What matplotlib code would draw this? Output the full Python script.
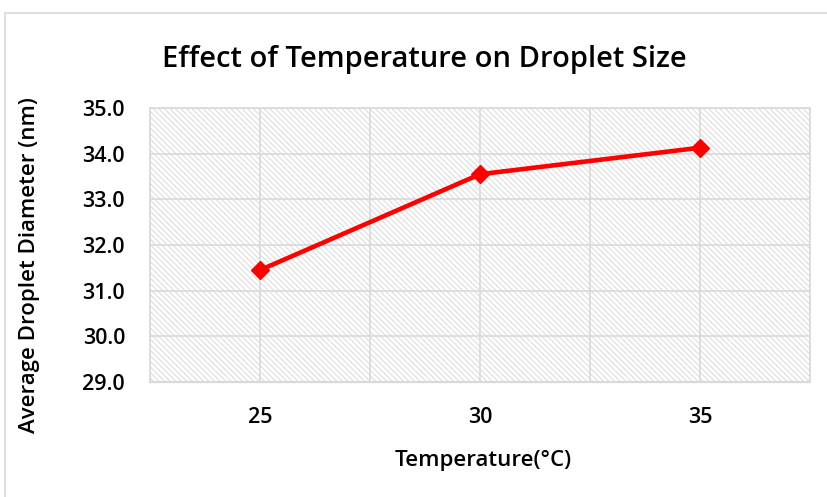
import numpy as np
import matplotlib.pyplot as plt
from matplotlib.patches import Rectangle

# DATA
temperature = [25, 30, 35]
diameter = [31.45, 33.55, 34.13]
x_ticks = [25, 30, 35]
y_ticks = [29.0, 30.0, 31.0, 32.0, 33.0, 34.0, 35.0]

plt.rcParams['font.family'] = ['Open Sans', 'DejaVu Sans']
plt.rcParams['font.weight'] = 'semibold'
plt.rcParams['hatch.linewidth'] = 0.8

W, H = 827, 497
fig = plt.figure(figsize=(W / 100, H / 100), dpi=100)

# light frame around the chart
fig.patches.append(Rectangle((5 / W, -0.1), 1.0, 1.1 - 13 / H, transform=fig.transFigure,
                             fill=False, edgecolor='#d9d9d9', lw=1.2))

ax = fig.add_axes([150 / W, 1 - 382 / H, 660 / W, 274 / H])

# hatched plot area
ax.add_patch(Rectangle((0, 0), 1, 1, transform=ax.transAxes, fill=False,
                       hatch='\\' * 6, edgecolor='#dedede', lw=0, zorder=0))

grid_x = np.arange(22.5, 37.6, 2.5)
ax.set_xlim(22.5, 37.5)
ax.set_ylim(29.0, 35.0)
ax.set_xticks(grid_x)
ax.set_xticklabels([str(int(v)) if v in x_ticks else '' for v in grid_x])
ax.set_yticks(y_ticks)
ax.set_yticklabels([f'{v:.1f}' for v in y_ticks])
ax.grid(True, color='#d9d9d9', lw=1.2, zorder=1)
ax.tick_params(length=0, labelsize=15.5, pad=18, colors='black')
ax.tick_params(axis='y', pad=18)
for s in ax.spines.values():
    s.set_color('#d9d9d9')
    s.set_linewidth(1.2)
ax.spines['bottom'].set_linewidth(1.6)

ax.plot(temperature, diameter, color='#ff0000', lw=3.3, marker='D', markersize=9,
        zorder=3, clip_on=False)

fig.text(424 / W, 1 - 60 / H, 'Effect of Temperature on Droplet Size', ha='center', va='center',
         fontsize=21)
fig.text(30 / W, 1 - 265 / H, 'Average Droplet Diameter (nm)', ha='center', va='center',
         rotation=90, fontsize=16)
fig.text(483 / W, 1 - 460 / H, 'Temperature(°C)', ha='center', va='center', fontsize=16)

fig.savefig('out.png', dpi=100)
